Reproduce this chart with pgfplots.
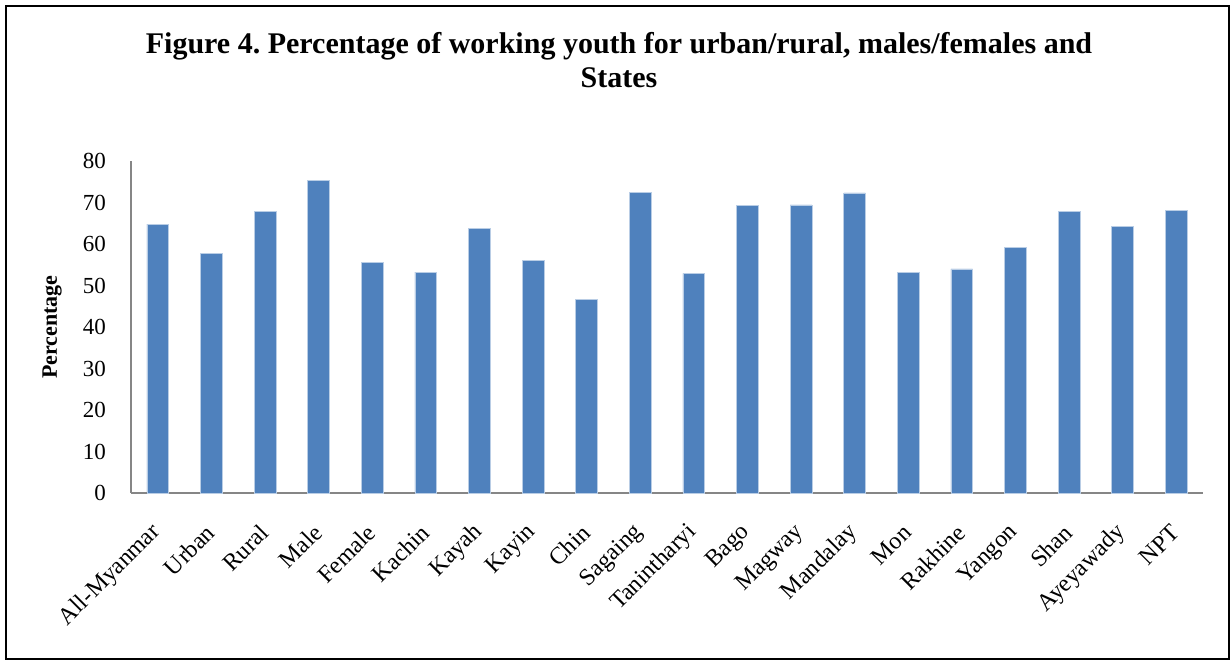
\documentclass[border=0pt]{standalone}
\usepackage{pgfplots}
\pgfplotsset{compat=1.18}
\usepackage{fontspec}
\setmainfont{Liberation Serif}
\frenchspacing

\definecolor{barblue}{HTML}{4F81BD}
\definecolor{baredge}{HTML}{B9CDE5}
\definecolor{axisgray}{HTML}{868686}

\begin{document}
\begin{tikzpicture}[x=1pt,y=1pt]
% page frame
\useasboundingbox (0,0) rectangle (1230,661);
\draw[line width=1.6pt,black] (6,2) rectangle (1229,655);

% two-line bold title
\node[anchor=base,font=\bfseries\fontsize{30}{34}\selectfont,inner sep=0pt]
  at (619,607.7) {Figure 4. Percentage of working youth for urban/rural, males/females and};
\node[anchor=base,font=\bfseries\fontsize{30}{34}\selectfont,inner sep=0pt]
  at (619,573.3) {States};

\begin{axis}[
  at={(131pt,168pt)}, anchor=south west,
  scale only axis,
  width=1072pt, height=332pt,
  xmin=-0.5, xmax=19.5,
  ymin=0, ymax=80,
  ytick={0,10,...,80},
  xtick=data,
  xticklabels={All-Myanmar,Urban,Rural,Male,Female,Kachin,Kayah,Kayin,Chin,Sagaing,Tanintharyi,Bago,Magway,Mandalay,Mon,Rakhine,Yangon,Shan,Ayeyawady,NPT},
  axis lines*=left,
  axis line style={axisgray,line width=1.5pt,-},
  major tick length=0pt,
  /pgf/number format/assume math mode=true,
  yticklabel style={font=\fontsize{23}{27}\selectfont,black,inner sep=0pt,anchor=east},
  yticklabel shift=25pt,
  xticklabel style={font=\fontsize{24}{28}\selectfont,black,rotate=45,anchor=east,inner sep=0pt,xshift=-1pt},
  xticklabel shift=35pt,
  ylabel={Percentage},
  ylabel style={font=\bfseries\fontsize{22}{26}\selectfont,at={(axis description cs:-0.0737,0.5)},anchor=center},
  ybar, bar width=21.7pt,
  clip=false,
]
\addplot[fill=barblue,draw=baredge,line width=0.6pt] coordinates {
  (0,64.8) (1,57.8) (2,67.9) (3,75.3) (4,55.6)
  (5,53.2) (6,63.7) (7,56.0) (8,46.7) (9,72.4)
  (10,52.9) (11,69.3) (12,69.4) (13,72.3) (14,53.1)
  (15,54.0) (16,59.1) (17,67.9) (18,64.2) (19,68.1)
};
\end{axis}
\end{tikzpicture}
\end{document}
